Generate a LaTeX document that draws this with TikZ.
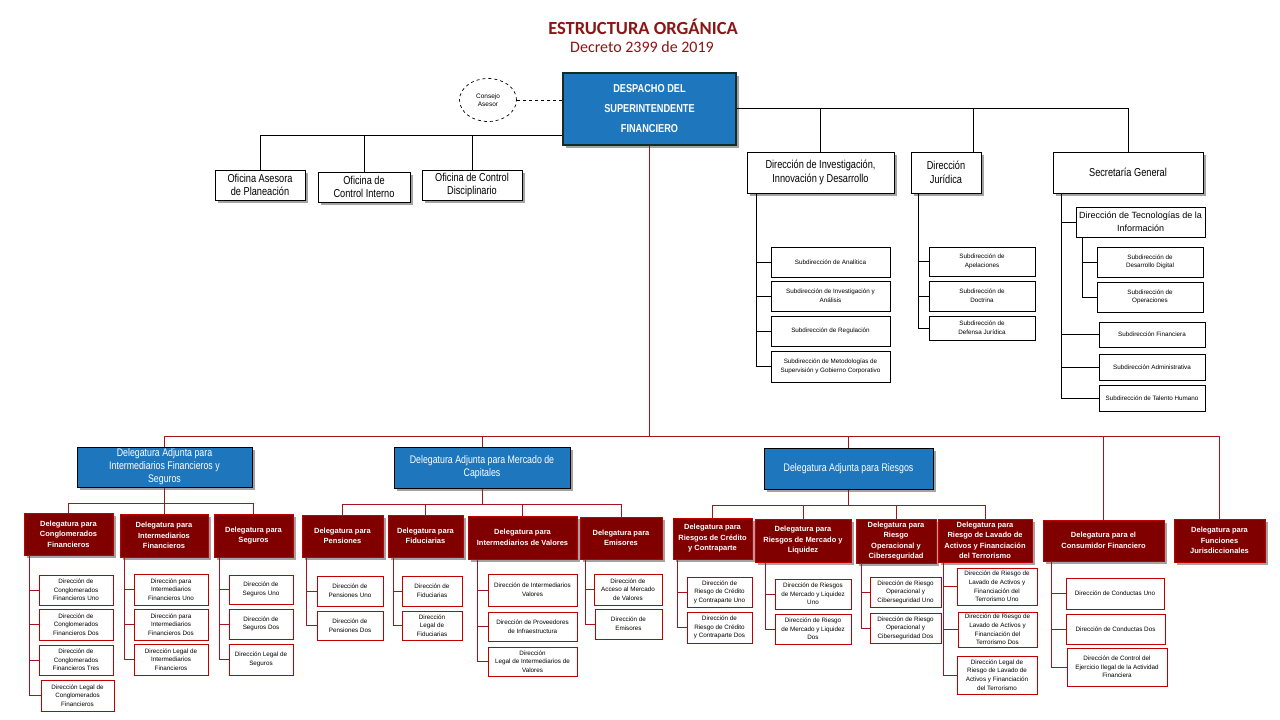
\documentclass[tikz,border=0pt]{standalone}
\usepackage{fontspec}
\setmainfont{Liberation Sans}
\newfontfamily\estrecha[FakeStretch=0.8]{Liberation Sans}
\newfontfamily\titular{Carlito}
\usetikzlibrary{calc, shadows, shapes.geometric}
\definecolor{azul}{RGB}{30,118,189}
\definecolor{granate}{RGB}{128,0,0}
\definecolor{rojo}{RGB}{192,0,0}
\definecolor{rojolin}{RGB}{165,20,30}
\definecolor{tinto}{RGB}{140,22,22}
\definecolor{bordesp}{RGB}{20,45,35}
\tikzset{
  caja/.style={draw, rectangle, inner sep=1pt, align=center},
  sombra/.style={drop shadow={shadow xshift=2.5pt, shadow yshift=-2.5pt, fill=black!45, opacity=.8}},
  desp/.style={caja, fill=azul, draw=bordesp, line width=1.2pt, text=white, sombra, font=\estrecha\bfseries\fontsize{11.5}{20}\selectfont},
  ofi/.style={caja, fill=white, line width=0.9pt, sombra, font=\estrecha\fontsize{11.5}{13.5}\selectfont},
  dtec/.style={caja, fill=white, line width=0.7pt, font=\fontsize{9}{13}\selectfont},
  sub/.style={caja, line width=0.6pt, font=\fontsize{6.3}{8.6}\selectfont},
  dadj/.style={caja, fill=azul, line width=1pt, text=white, sombra, font=\estrecha\fontsize{11}{13}\selectfont},
  dele/.style={caja, fill=granate, draw=rojo, line width=0.8pt, text=white, sombra, font=\bfseries\fontsize{7.5}{10.5}\selectfont},
  subr/.style={caja, draw=rojo, line width=0.8pt, font=\fontsize{6.3}{8.6}\selectfont},
  cons/.style={ellipse, draw, dashed, line width=0.7pt, minimum width=57pt, minimum height=43pt, inner sep=0pt, align=center, font=\fontsize{6.5}{8}\selectfont},
  lin/.style={line width=0.8pt},
  lir/.style={draw=rojolin, line width=0.8pt}
}
\newcommand{\caja}[7]{\node[#1, minimum width={(#5)-(#3)}, minimum height={(#6)-(#4)}] (#2) at ({((#3)+(#5))/2},{((#4)+(#6))/2}) {#7};}
\newcommand{\ramas}[4]{\foreach \h in {#4} \draw[#1] ($(#2.south west)+(#3,0)$) |- (\h.west);}

\begin{document}
\begin{tikzpicture}[x=1pt, y=-1pt]
		\fill[white] (0,0) rectangle (1280,720);
		\useasboundingbox (0,0) rectangle (1280,720);
		\node[font=\titular\bfseries\fontsize{18.5}{22}\selectfont, text=tinto] (tit) at (643,27) {ESTRUCTURA ORGÁNICA};
		\node[font=\titular\fontsize{16}{19}\selectfont, text=tinto] (dec) at (642,47) {Decreto 2399 de 2019};
		\caja{desp}{des}{563}{73}{736}{145}{DESPACHO DEL\\SUPERINTENDENTE\\FINANCIERO}
		\node[cons] (con) at (488,100) {Consejo\\Asesor};
		\caja{ofi}{ofa}{215}{170}{305}{200}{Oficina Asesora\\de Planeación}
		\caja{ofi}{ofb}{318}{172}{410}{202}{Oficina de\\Control Interno}
		\caja{ofi}{ofc}{422}{170}{522}{200}{Oficina de Control\\Disciplinario}
		\caja{ofi}{dii}{747}{152}{894}{193}{Dirección de Investigación,\\Innovación y Desarrollo}
		\caja{ofi}{dju}{911}{152}{981}{193}{Dirección\\Jurídica}
		\caja{ofi}{sge}{1053}{152}{1203}{193}{Secretaría General}
		\caja{sub}{sana}{771}{247}{890}{277}{Subdirección de Analítica}
		\caja{sub}{sinv}{771}{281}{890}{311}{Subdirección de Investigación y\\Análisis}
		\caja{sub}{sreg}{771}{316}{890}{346}{Subdirección de Regulación}
		\caja{sub}{smet}{771}{351}{890}{382}{Subdirección de Metodologías de\\Supervisión y Gobierno Corporativo}
		\caja{sub}{sape}{929}{247}{1035}{276}{Subdirección de\\Apelaciones}
		\caja{sub}{sdoc}{929}{281}{1035}{311}{Subdirección de\\Doctrina}
		\caja{sub}{sdef}{929}{316}{1035}{340}{Subdirección de\\Defensa Jurídica}
		\caja{dtec}{dte}{1076}{207}{1205}{237}{Dirección de Tecnologías de la\\Información}
		\caja{sub}{sdig}{1097}{247}{1203}{277}{Subdirección de\\Desarrollo Digital}
		\caja{sub}{sope}{1097}{282}{1203}{312}{Subdirección de\\Operaciones}
		\caja{sub}{sfin}{1099}{322}{1205}{347}{Subdirección Financiera}
		\caja{sub}{sadm}{1099}{354}{1205}{380}{Subdirección Administrativa}
		\caja{sub}{stal}{1099}{385}{1205}{411}{Subdirección de Talento Humano}
		\caja{dadj}{da1}{77}{447}{252}{487}{Delegatura Adjunta para\\Intermediarios Financieros y\\Seguros}
		\caja{dadj}{da2}{394}{447}{570}{488}{Delegatura Adjunta para Mercado de\\Capitales}
		\caja{dadj}{da3}{764}{448}{933}{489}{Delegatura Adjunta para Riesgos}
		\caja{dele}{dcf}{24}{513}{113}{555}{Delegatura para\\Conglomerados\\Financieros}
		\caja{dele}{dif}{120}{514}{208}{557}{Delegatura para\\Intermediarios\\Financieros}
		\caja{dele}{dse}{214}{514}{293}{557}{Delegatura para\\Seguros}
		\caja{dele}{dpe}{302}{515}{383}{557}{Delegatura para\\Pensiones}
		\caja{dele}{dfi}{388}{515}{463}{557}{Delegatura para\\Fiduciarias}
		\caja{dele}{div}{468}{516}{577}{559}{Delegatura para\\Intermediarios de Valores}
		\caja{dele}{dem}{580}{517}{662}{559}{Delegatura para\\Emisores}
		\caja{dele}{dcr}{673}{518}{752}{559}{Delegatura para\\Riesgos de Crédito\\y Contraparte}
		\caja{dele}{dml}{755}{519}{851}{562}{Delegatura para\\Riesgos de Mercado y\\Liquidez}
		\caja{dele}{dro}{856}{519}{936}{563}{Delegatura para\\Riesgo\\Operacional y\\Ciberseguridad}
		\caja{dele}{dla}{938}{519}{1032}{562}{Delegatura para\\Riesgo de Lavado de\\Activos y Financiación\\del Terrorismo}
		\caja{dele}{dcn}{1043}{520}{1164}{561}{Delegatura para el\\Consumidor Financiero}
		\caja{dele}{dfj}{1174}{519}{1265}{562}{Delegatura para\\Funciones\\Jurisdiccionales}
		\caja{subr}{cf1}{39}{575}{113}{605}{Dirección de\\Conglomerados\\Financieros Uno}
		\caja{subr}{cf2}{39}{609}{113}{640}{Dirección de\\Conglomerados\\Financieros Dos}
		\caja{subr}{cf3}{39}{645}{113}{675}{Dirección de\\Conglomerados\\Financieros Tres}
		\caja{subr}{cfl}{41}{680}{114}{711}{Dirección Legal de\\Conglomerados\\Financieros}
		\caja{subr}{if1}{134}{574}{208}{605}{Dirección para\\Intermediarios\\Financieros Uno}
		\caja{subr}{if2}{134}{609}{208}{640}{Dirección para\\Intermediarios\\Financieros Dos}
		\caja{subr}{ifl}{134}{644}{208}{675}{Dirección Legal de\\Intermediarios\\Financieros}
		\caja{subr}{se1}{229}{575}{293}{604}{Dirección de\\Seguros Uno}
		\caja{subr}{se2}{229}{609}{293}{639}{Dirección de\\Seguros Dos}
		\caja{subr}{sel}{229}{644}{293}{675}{Dirección Legal de\\Seguros}
		\caja{subr}{pe1}{317}{576}{383}{606}{Dirección de\\Pensiones Uno}
		\caja{subr}{pe2}{317}{611}{383}{640}{Dirección de\\Pensiones Dos}
		\caja{subr}{fi1}{402}{576}{462}{606}{Dirección de\\Fiduciarias}
		\caja{subr}{fil}{402}{611}{462}{640}{Dirección\\Legal de\\Fiduciarias}
		\caja{subr}{iv1}{488}{574}{577}{606}{Dirección de Intermediarios\\Valores}
		\caja{subr}{iv2}{488}{612}{577}{641}{Dirección de Proveedores\\de Infraestructura}
		\caja{subr}{ivl}{488}{647}{577}{676}{Dirección\\Legal de Intermediarios de\\Valores}
		\caja{subr}{em1}{594}{574}{662}{605}{Dirección de\\Acceso al Mercado\\de Valores}
		\caja{subr}{em2}{595}{609}{662}{639}{Dirección de\\Emisores}
		\caja{subr}{cr1}{687}{577}{752}{607}{Dirección de\\Riesgo de Crédito\\y Contraparte Uno}
		\caja{subr}{cr2}{687}{612}{752}{643}{Dirección de\\Riesgo de Crédito\\y Contraparte Dos}
		\caja{subr}{ml1}{775}{579}{851}{609}{Dirección de Riesgos\\de Mercado y Liquidez\\Uno}
		\caja{subr}{ml2}{775}{614}{851}{644}{Dirección de Riesgo\\de Mercado y Liquidez\\Dos}
		\caja{subr}{ro1}{870}{577}{941}{607}{Dirección de Riesgo\\Operacional y\\Ciberseguridad Uno}
		\caja{subr}{ro2}{870}{613}{941}{643}{Dirección de Riesgo\\Operacional y\\Ciberseguridad Dos}
		\caja{subr}{la1}{957}{568}{1037}{605}{Dirección de Riesgo de\\Lavado de Activos y\\Financiación del\\Terrorismo Uno}
		\caja{subr}{la2}{958}{612}{1037}{647}{Dirección de Riesgo de\\Lavado de Activos y\\Financiación del\\Terrorismo Dos}
		\caja{subr}{lal}{957}{656}{1037}{694}{Dirección Legal de\\Riesgo de Lavado de\\Activos y Financiación\\del Terrorismo}
		\caja{subr}{cn1}{1066}{578}{1164}{609}{Dirección de Conductas Uno}
		\caja{subr}{cn2}{1066}{614}{1165}{644}{Dirección de Conductas Dos}
		\caja{subr}{cnl}{1067}{648}{1167}{686}{Dirección de Control del\\Ejercicio Ilegal de la Actividad\\Financiera}
		\draw[lin, dashed] (con.east) -- (con.east -| des.west);
		\coordinate (izq) at ($(des.south west)+(0,-10)$);
		\coordinate (der) at ($(des.north east)+(0,36)$);
		\foreach \o in {ofa,ofb,ofc} \draw[lin] (izq) -| (\o.north);
		\draw[lin] (der) -| (dii.north);
		\draw[lin] (der) -| ($(dju.north east)+(-8,0)$);
		\draw[lin] (der) -| (sge.north);
		\ramas{lin}{dii}{10}{sana,sinv,sreg,smet}
		\ramas{lin}{dju}{8}{sape,sdoc,sdef}
		\ramas{lin}{sge}{9}{dte,sfin,sadm,stal}
		\ramas{lin}{dte}{7}{sdig,sope}
		\coordinate (nudo) at ($(des.south)+(0,291)$);
		\draw[lir] (des.south) -- (nudo);
		\foreach \d in {da1,da2,da3,dcn,dfj} \draw[lir] (nudo) -| (\d.north);
		\coordinate (n1) at ($(da1.south)+(0,16)$);
		\coordinate (n2) at ($(da2.south)+(0,16)$);
		\coordinate (n3) at ($(da3.south)+(0,16)$);
		\draw[lir] (da1.south) -- (n1);
		\draw[lir] (da2.south) -- (n2);
		\draw[lir] (da3.south) -- (n3);
		\foreach \d in {dcf,dif,dse} \draw[lir] (n1) -| (\d.north);
		\foreach \d in {dpe,dfi,div,dem} \draw[lir] (n2) -| (\d.north);
		\foreach \d in {dcr,dml,dro,dla} \draw[lir] (n3) -| (\d.north);
		\ramas{lir}{dcf}{6}{cf1,cf2,cf3,cfl}
		\ramas{lir}{dif}{5}{if1,if2,ifl}
		\ramas{lir}{dse}{6}{se1,se2,sel}
		\ramas{lir}{dpe}{5}{pe1,pe2}
		\ramas{lir}{dfi}{6}{fi1,fil}
		\ramas{lir}{div}{10}{iv1,iv2,ivl}
		\ramas{lir}{dem}{6}{em1,em2}
		\ramas{lir}{dcr}{5}{cr1,cr2}
		\ramas{lir}{dml}{11}{ml1,ml2}
		\ramas{lir}{dro}{6}{ro1,ro2}
		\ramas{lir}{dla}{6}{la1,la2,lal}
		\ramas{lir}{dcn}{9}{cn1,cn2,cnl}
	\end{tikzpicture}
\end{document}
